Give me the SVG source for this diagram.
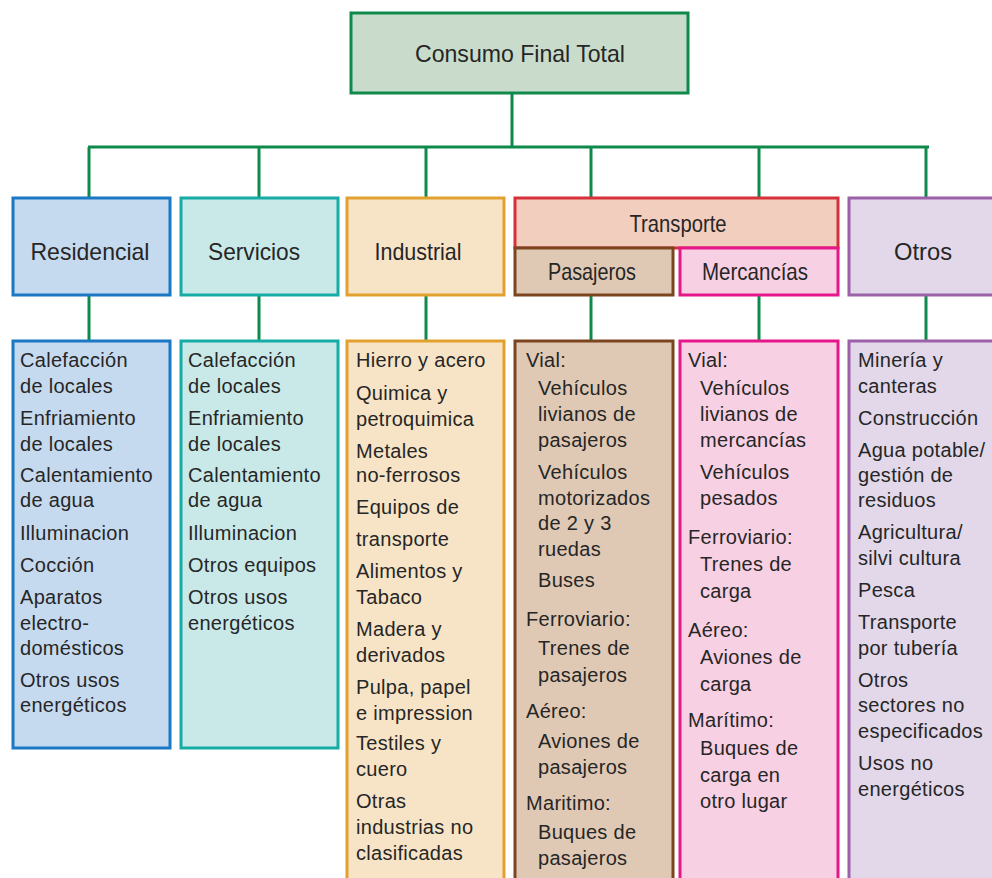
<svg xmlns="http://www.w3.org/2000/svg" width="992" height="878" viewBox="0 0 992 878">
<style>
text{font-family:"Liberation Sans",Arial,sans-serif;fill:#262626}
.h{font-size:24px;text-anchor:middle}
.t{font-size:20px;letter-spacing:0.3px}
.c{fill:none;stroke:#0e8a4c;stroke-width:3}
.res{fill:#c6daef;stroke:#1a78c4;stroke-width:3}
.ser{fill:#c9e9e8;stroke:#16aca6;stroke-width:3}
.ind{fill:#f7e4c6;stroke:#e2a12e;stroke-width:3}
.tra{fill:#f2cebf;stroke:#d6303a;stroke-width:3}
.pas{fill:#dfc9b5;stroke:#7b4520;stroke-width:3}
.mer{fill:#f8d0e3;stroke:#e6178a;stroke-width:3}
.otr{fill:#e2d8e9;stroke:#9b61a9;stroke-width:3}
</style>
<rect width="992" height="878" fill="#ffffff"/>
<g id="connectors">
<path class="c" d="M512 93V147M88 147H929M89 147V198M259 147V198M426 147V198M591 147V198M759 147V198M926 147V198"/>
<path class="c" d="M89 295V341M259 295V341M426 295V341M591 295V341M759 295V341M926 295V341"/>
</g>
<g id="root">
<rect x="351" y="13" width="337" height="80" fill="#c9dccb" stroke="#0e8a4c" stroke-width="3"/>
<text class="h" x="520" y="62" font-size="25" textLength="210" lengthAdjust="spacingAndGlyphs">Consumo Final Total</text>
</g>
<g id="residencial">
<rect class="res" x="13" y="198" width="157" height="97"/>
<text class="h" x="90" y="260" textLength="119" lengthAdjust="spacingAndGlyphs">Residencial</text>
</g>
<g id="servicios">
<rect class="ser" x="181" y="198" width="157" height="97"/>
<text class="h" x="254" y="260" textLength="92" lengthAdjust="spacingAndGlyphs">Servicios</text>
</g>
<g id="industrial">
<rect class="ind" x="347" y="198" width="157" height="97"/>
<text class="h" x="418" y="260" textLength="87" lengthAdjust="spacingAndGlyphs">Industrial</text>
</g>
<g id="transporte">
<rect class="tra" x="515" y="198" width="323" height="50"/>
<text class="h" x="678" y="232" font-size="22" textLength="97" lengthAdjust="spacingAndGlyphs">Transporte</text>
</g>
<g id="pasajeros">
<rect class="pas" x="515" y="248" width="158" height="47"/>
<text class="h" x="592" y="280" font-size="22" textLength="88" lengthAdjust="spacingAndGlyphs">Pasajeros</text>
</g>
<g id="mercancias">
<rect class="mer" x="680" y="248" width="158" height="47"/>
<text class="h" x="755" y="280" font-size="22" textLength="106" lengthAdjust="spacingAndGlyphs">Mercancías</text>
</g>
<g id="otros">
<rect class="otr" x="849" y="198" width="160" height="97"/>
<text class="h" x="923" y="260" textLength="58" lengthAdjust="spacingAndGlyphs">Otros</text>
</g>
<g id="residencial-list">
<rect class="res" x="13" y="341" width="157" height="407"/>
<text class="t"><tspan x="20" y="367">Calefacción</tspan><tspan x="20" y="393">de locales</tspan><tspan x="20" y="425">Enfriamiento</tspan><tspan x="20" y="451">de locales</tspan><tspan x="20" y="482">Calentamiento</tspan><tspan x="20" y="507">de agua</tspan><tspan x="20" y="540">Illuminacion</tspan><tspan x="20" y="572">Cocción</tspan><tspan x="20" y="604">Aparatos</tspan><tspan x="20" y="630">electro-</tspan><tspan x="20" y="655">domésticos</tspan><tspan x="20" y="687">Otros usos</tspan><tspan x="20" y="712">energéticos</tspan></text>
</g>
<g id="servicios-list">
<rect class="ser" x="181" y="341" width="157" height="407"/>
<text class="t"><tspan x="188" y="367">Calefacción</tspan><tspan x="188" y="393">de locales</tspan><tspan x="188" y="425">Enfriamiento</tspan><tspan x="188" y="451">de locales</tspan><tspan x="188" y="482">Calentamiento</tspan><tspan x="188" y="507">de agua</tspan><tspan x="188" y="540">Illuminacion</tspan><tspan x="188" y="572">Otros equipos</tspan><tspan x="188" y="604">Otros usos</tspan><tspan x="188" y="630">energéticos</tspan></text>
</g>
<g id="industrial-list">
<rect class="ind" x="347" y="341" width="157" height="560"/>
<text class="t"><tspan x="356" y="367">Hierro y acero</tspan><tspan x="356" y="400">Quimica y</tspan><tspan x="356" y="426">petroquimica</tspan><tspan x="356" y="458">Metales</tspan><tspan x="356" y="482">no-ferrosos</tspan><tspan x="356" y="514">Equipos de</tspan><tspan x="356" y="546">transporte</tspan><tspan x="356" y="578">Alimentos y</tspan><tspan x="356" y="604">Tabaco</tspan><tspan x="356" y="636">Madera y</tspan><tspan x="356" y="662">derivados</tspan><tspan x="356" y="694">Pulpa, papel</tspan><tspan x="356" y="720">e impression</tspan><tspan x="356" y="750">Testiles y</tspan><tspan x="356" y="776">cuero</tspan><tspan x="356" y="808">Otras</tspan><tspan x="356" y="834">industrias no</tspan><tspan x="356" y="860">clasificadas</tspan></text>
</g>
<g id="pasajeros-list">
<rect class="pas" x="515" y="341" width="158" height="560"/>
<text class="t"><tspan x="526" y="367">Vial:</tspan><tspan x="538" y="395">Vehículos</tspan><tspan x="538" y="421">livianos de</tspan><tspan x="538" y="447">pasajeros</tspan><tspan x="538" y="479">Vehículos</tspan><tspan x="538" y="505">motorizados</tspan><tspan x="538" y="530">de 2 y 3</tspan><tspan x="538" y="556">ruedas</tspan><tspan x="538" y="587">Buses</tspan><tspan x="526" y="626">Ferroviario:</tspan><tspan x="538" y="655">Trenes de</tspan><tspan x="538" y="682">pasajeros</tspan><tspan x="526" y="718">Aéreo:</tspan><tspan x="538" y="748">Aviones de</tspan><tspan x="538" y="774">pasajeros</tspan><tspan x="526" y="810">Maritimo:</tspan><tspan x="538" y="839">Buques de</tspan><tspan x="538" y="865">pasajeros</tspan></text>
</g>
<g id="mercancias-list">
<rect class="mer" x="680" y="341" width="158" height="560"/>
<text class="t"><tspan x="688" y="367">Vial:</tspan><tspan x="700" y="395">Vehículos</tspan><tspan x="700" y="421">livianos de</tspan><tspan x="700" y="447">mercancías</tspan><tspan x="700" y="479">Vehículos</tspan><tspan x="700" y="505">pesados</tspan><tspan x="688" y="544">Ferroviario:</tspan><tspan x="700" y="571">Trenes de</tspan><tspan x="700" y="598">carga</tspan><tspan x="688" y="637">Aéreo:</tspan><tspan x="700" y="664">Aviones de</tspan><tspan x="700" y="691">carga</tspan><tspan x="688" y="727">Marítimo:</tspan><tspan x="700" y="755">Buques de</tspan><tspan x="700" y="782">carga en</tspan><tspan x="700" y="808">otro lugar</tspan></text>
</g>
<g id="otros-list">
<rect class="otr" x="849" y="341" width="160" height="560"/>
<text class="t"><tspan x="858" y="367">Minería y</tspan><tspan x="858" y="393">canteras</tspan><tspan x="858" y="425">Construcción</tspan><tspan x="858" y="457">Agua potable/</tspan><tspan x="858" y="482">gestión de</tspan><tspan x="858" y="507">residuos</tspan><tspan x="858" y="539">Agricultura/</tspan><tspan x="858" y="565">silvi cultura</tspan><tspan x="858" y="597">Pesca</tspan><tspan x="858" y="629">Transporte</tspan><tspan x="858" y="655">por tubería</tspan><tspan x="858" y="687">Otros</tspan><tspan x="858" y="712">sectores no</tspan><tspan x="858" y="738">especificados</tspan><tspan x="858" y="770">Usos no</tspan><tspan x="858" y="796">energéticos</tspan></text>
</g>
</svg>
